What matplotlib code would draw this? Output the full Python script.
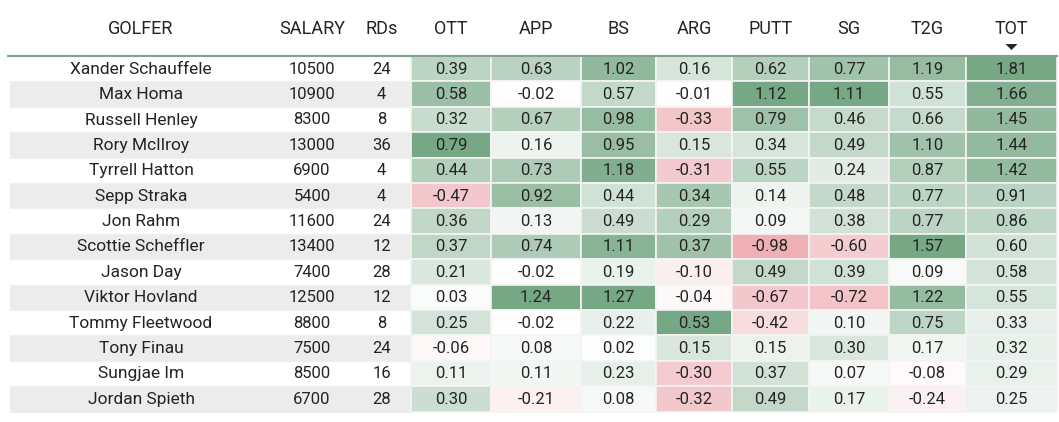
import matplotlib
matplotlib.use("Agg")
import matplotlib.pyplot as plt
from matplotlib.patches import Rectangle, Polygon
from matplotlib.colors import LinearSegmentedColormap, TwoSlopeNorm
import numpy as np

golfers = ["Xander Schauffele", "Max Homa", "Russell Henley", "Rory McIlroy",
           "Tyrrell Hatton", "Sepp Straka", "Jon Rahm", "Scottie Scheffler",
           "Jason Day", "Viktor Hovland", "Tommy Fleetwood", "Tony Finau",
           "Sungjae Im", "Jordan Spieth"]
salary = [10500, 10900, 8300, 13000, 6900, 5400, 11600, 13400, 7400, 12500, 8800, 7500, 8500, 6700]
rds = [24, 4, 8, 36, 4, 4, 24, 12, 28, 12, 8, 24, 16, 28]
ott = [0.39, 0.58, 0.32, 0.79, 0.44, -0.47, 0.36, 0.37, 0.21, 0.03, 0.25, -0.06, 0.11, 0.30]
app = [0.63, -0.02, 0.67, 0.16, 0.73, 0.92, 0.13, 0.74, -0.02, 1.24, -0.02, 0.08, 0.11, -0.21]
bs = [1.02, 0.57, 0.98, 0.95, 1.18, 0.44, 0.49, 1.11, 0.19, 1.27, 0.22, 0.02, 0.23, 0.08]
arg = [0.16, -0.01, -0.33, 0.15, -0.31, 0.34, 0.29, 0.37, -0.10, -0.04, 0.53, 0.15, -0.30, -0.32]
putt = [0.62, 1.12, 0.79, 0.34, 0.55, 0.14, 0.09, -0.98, 0.49, -0.67, -0.42, 0.15, 0.37, 0.49]
sg = [0.77, 1.11, 0.46, 0.49, 0.24, 0.48, 0.38, -0.60, 0.39, -0.72, 0.10, 0.30, 0.07, 0.17]
t2g = [1.19, 0.55, 0.66, 1.10, 0.87, 0.77, 0.77, 1.57, 0.09, 1.22, 0.75, 0.17, -0.08, -0.24]
tot = [1.81, 1.66, 1.45, 1.44, 1.42, 0.91, 0.86, 0.60, 0.58, 0.55, 0.33, 0.32, 0.29, 0.25]

headers = ["GOLFER", "SALARY", "RDs", "OTT", "APP", "BS", "ARG", "PUTT", "SG", "T2G", "TOT"]
stat_cols = [ott, app, bs, arg, putt, sg, t2g, tot]

W, H = 1059, 422
fig = plt.figure(figsize=(W / 100, H / 100), dpi=100)
ax = fig.add_axes([0, 0, 1, 1])
ax.set_xlim(0, W)
ax.set_ylim(H, 0)
ax.axis("off")

font = "Roboto"
txt_color = "#252423"
fs_name = 12.5
fs_num = 12
fs_head = 13

bounds = [10, 272, 352, 411, 491, 581, 656, 732, 809, 889, 966, 1057]
header_y = 29
top = 56
row_h = 25.4

cmap = LinearSegmentedColormap.from_list("rwg", ["#eba4aa", "#ffffff", "#77a886"])

for i, h in enumerate(headers):
    cx = (bounds[i] + bounds[i + 1]) / 2
    ax.text(cx, header_y, h, ha="center", va="center", fontsize=fs_head, color=txt_color, family=font)

cx_tot = (bounds[-2] + bounds[-1]) / 2
ax.add_patch(Polygon([[cx_tot - 6, 44], [cx_tot + 6, 44], [cx_tot, 50]], closed=True,
                     facecolor="#252423", edgecolor="none"))

n = len(golfers)
for r in range(n):
    y0 = top + r * row_h
    cy = y0 + row_h / 2 + 0.5
    bg = "#ffffff" if r % 2 == 0 else "#ececec"
    ax.add_patch(Rectangle((bounds[0], y0), bounds[3] - bounds[0], row_h,
                           facecolor=bg, edgecolor="none"))
    ax.plot([bounds[0], bounds[3]], [y0 + row_h, y0 + row_h], color="#f0f0f0", lw=1)
    ax.text((bounds[0] + bounds[1]) / 2, cy, golfers[r], ha="center", va="center",
            fontsize=fs_name, color=txt_color, family=font)
    ax.text((bounds[1] + bounds[2]) / 2, cy, str(salary[r]), ha="center", va="center",
            fontsize=fs_num, color=txt_color, family=font)
    ax.text((bounds[2] + bounds[3]) / 2, cy, str(rds[r]), ha="center", va="center",
            fontsize=fs_num, color=txt_color, family=font)

for c, col in enumerate(stat_cols):
    vals = np.array(col)
    lim = max(abs(vals.min()), vals.max())
    norm = TwoSlopeNorm(vcenter=0, vmin=-lim, vmax=lim)
    x0 = bounds[3 + c]
    x1 = bounds[4 + c]
    for r, v in enumerate(vals):
        y0 = top + r * row_h
        ax.add_patch(Rectangle((x0, y0), x1 - x0, row_h, facecolor=cmap(norm(v)),
                               edgecolor="#f4f4f4", lw=1.2))
        ax.text((x0 + x1) / 2, y0 + row_h / 2 + 0.5, f"{v:.2f}",
                ha="center", va="center", fontsize=fs_num, color=txt_color, family=font)

ax.plot([bounds[0] - 2, bounds[-1]], [top, top], color="#7ea58b", lw=1.5)

fig.savefig("out.png", dpi=100)
